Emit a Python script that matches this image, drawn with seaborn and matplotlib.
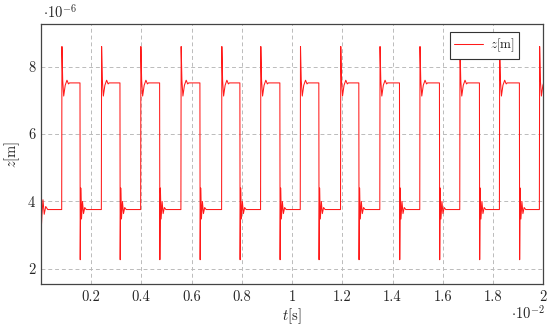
import matplotlib
matplotlib.use("Agg")
import pandas as pd
import matplotlib.pyplot as plt
import seaborn as sns

# edge times [s]
rise_t = [0.000835, 0.002413, 0.003976, 0.005578, 0.007197, 0.008747, 0.010326,
          0.011928, 0.013491, 0.015081, 0.016672, 0.018250, 0.019840]
fall_t = [0.001563, 0.003153, 0.004731, 0.006334, 0.007924, 0.009515,
          0.011065, 0.012656, 0.014274, 0.015864, 0.017455, 0.019045]

# levels [1e-6 m]
z_low = 3.76
z_high = 7.52

# ringing after each edge: delay [s] and z [1e-6 m]
start_dt = [0.0, 0.00002, 0.00005, 0.00009, 0.00014, 0.00020, 0.00028]
start_z = [5.3, 3.15, 3.6, 4.05, 3.62, 3.85, 3.76]
rise_dt = [0.00001, 0.00004, 0.00008, 0.00014, 0.00021, 0.00027, 0.00031]
rise_z = [8.6, 7.6, 7.13, 7.45, 7.6, 7.49, 7.52]
fall_dt = [0.00001, 0.00003, 0.00006, 0.00010, 0.00014, 0.00019, 0.00025]
fall_z = [2.27, 4.4, 3.48, 4.0, 3.64, 3.82, 3.76]

xtick_vals = [0.002, 0.004, 0.006, 0.008, 0.010, 0.012, 0.014, 0.016, 0.018, 0.020]
xtick_labels = ["0.2", "0.4", "0.6", "0.8", "1", "1.2", "1.4", "1.6", "1.8", "2"]
ytick_vals = [2, 4, 6, 8]

# put the trace together from the pieces
t = list(start_dt)
z = list(start_z)
for i, tr in enumerate(rise_t):
    t.append(tr)
    z.append(z_low)
    t += [tr + d for d in rise_dt]
    z += rise_z
    if i < len(fall_t):
        tf = fall_t[i]
        t.append(tf)
        z.append(z_high)
        t += [tf + d for d in fall_dt]
        z += fall_z

data = pd.DataFrame({"t": t, "z": z})

sns.set_theme(style="whitegrid")
plt.rcParams["font.family"] = ["cmr10", "DejaVu Serif"]
plt.rcParams["mathtext.fontset"] = "cm"
plt.rcParams["axes.unicode_minus"] = False
plt.rcParams["axes.formatter.use_mathtext"] = True

fig = plt.figure(figsize=(5.5, 3.28), dpi=100)
ax = fig.add_axes([0.074, 0.1332, 0.914, 0.7927])

sns.lineplot(data=data, x="t", y="z", estimator=None, sort=False,
             color="#ff1a1a", linewidth=0.75, label="$z$[m]", ax=ax)

ax.set_xlim(0, 0.02)
ax.set_ylim(1.54, 9.26)
ax.set_xticks(xtick_vals)
ax.set_xticklabels(xtick_labels)
ax.set_yticks(ytick_vals)
ax.set_yticklabels([str(v) for v in ytick_vals])
ax.tick_params(labelsize=10.5, direction="in", length=3, color="#444444", pad=4)

ax.set_facecolor("white")
ax.grid(True, color="#bbbbbb", linestyle=(0, (4, 3)), linewidth=0.7)
for s in ax.spines.values():
    s.set_color("#444444")
    s.set_linewidth(0.9)

ax.set_xlabel("$t$[s]", fontsize=10.5, labelpad=2)
ax.set_ylabel("$z$[m]", fontsize=10.5, labelpad=4)

fig.text(0.078, 0.965, r"$\cdot10^{-6}$", fontsize=10.5, ha="left", va="center")
fig.text(0.99, 0.045, r"$\cdot10^{-2}$", fontsize=10.5, ha="right", va="center")

leg = ax.legend(loc="upper right", bbox_to_anchor=(0.952, 0.97), borderaxespad=0,
                fontsize=9.5, frameon=True, fancybox=False, framealpha=1,
                handlelength=2.2, handletextpad=0.5, borderpad=0.35)
leg.get_frame().set_edgecolor("#333333")
leg.get_frame().set_linewidth(0.8)

fig.savefig("out.png", dpi=100)
